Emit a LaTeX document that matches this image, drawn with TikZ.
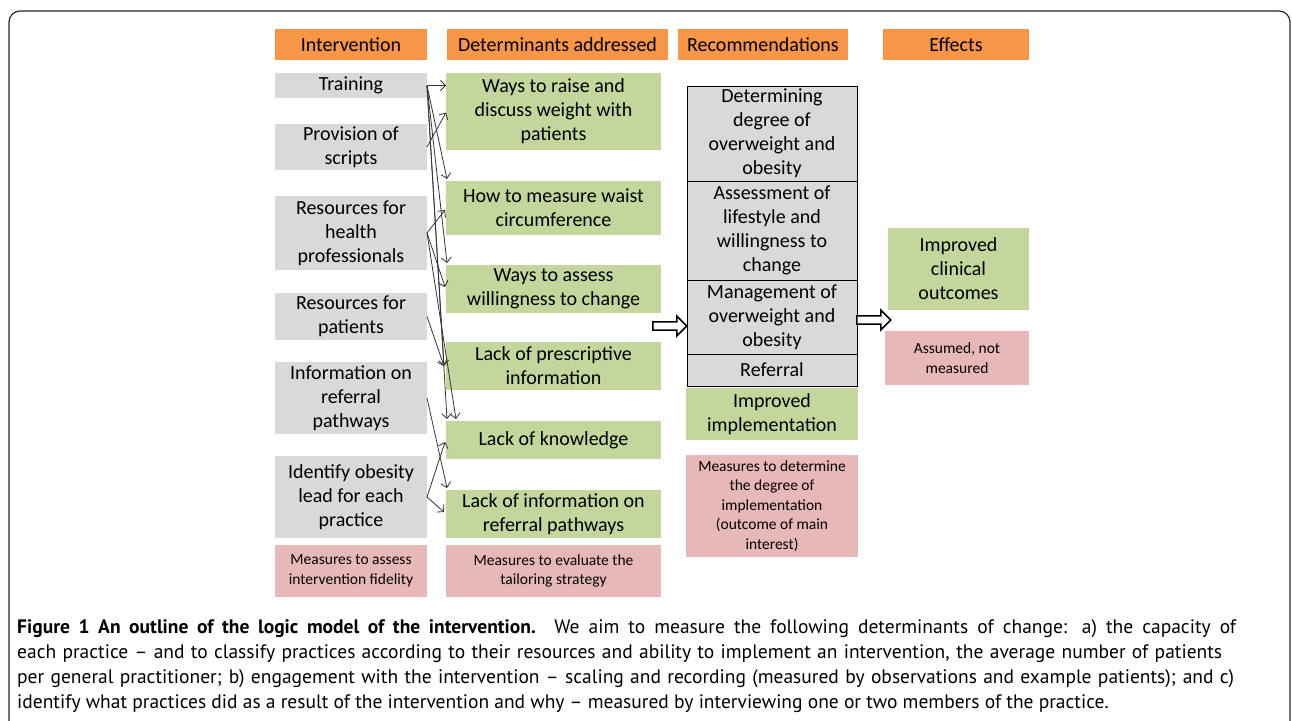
\documentclass[tikz,border=0pt]{standalone}
\usepackage{fontspec}
\setmainfont{Carlito}
\newfontfamily\capfont[Ligatures=TeX]{PT Sans}
\usetikzlibrary{shapes.arrows,calc,arrows.meta}
\definecolor{hdr}{HTML}{F79646}
\definecolor{gry}{HTML}{D9D9D9}
\definecolor{grn}{HTML}{C3D69B}
\definecolor{pnk}{HTML}{E6B9B8}
\newcommand{\dia}{\fontsize{20}{24}\selectfont}
\newcommand{\sml}{\fontsize{15.5}{19.5}\selectfont}
\newcommand{\capf}{\capfont\fontsize{19.5}{25}\selectfont}
\tikzset{
  base/.style={anchor=north west, inner sep=0pt, outer sep=0pt, align=center, font=\dia, text=black},
  hbox/.style={base, fill=hdr, minimum height=31pt},
  gbox/.style={base, fill=gry},
  grbox/.style={base, fill=grn},
  pbox/.style={base, fill=pnk, font=\sml},
  rbox/.style={base, fill=gry, draw=black, line width=0.8pt},
  lnk/.style={-{Straight Barb[length=5pt,width=10pt]}, line width=0.8pt, draw=black!80},
  blk/.style={single arrow, draw=black, fill=white, line width=1.6pt, minimum height=34pt, minimum width=20pt, single arrow head extend=4pt, inner sep=2pt, anchor=west},
  capline/.style={anchor=base west, inner sep=0pt, font=\capf}
}
\begin{document}
\begin{tikzpicture}[x=1pt,y=-1pt]
\useasboundingbox (0,0) rectangle (1292,720);
% frame
\draw[line width=1.2pt, draw=black!85, rounded corners=11pt] (9,730) -- (9,11) -- (1290,11) -- (1290,730);
% headers
\node[hbox, minimum width=152pt] (h1) at (275,29) {Intervention};
\node[hbox, minimum width=221pt] (h2) at (447,29) {Determinants addressed};
\node[hbox, minimum width=170pt] (h3) at (678,29) {Recommendations};
\node[hbox, minimum width=146pt] (h4) at (883,29) {Effects};
% intervention column
\node[gbox, minimum width=152pt, minimum height=25pt] (train) at (275,73) {Training};
\node[gbox, minimum width=152pt, minimum height=46pt] (prov) at (275,124) {Provision of\\scripts};
\node[gbox, minimum width=152pt, minimum height=74pt] (rhp) at (275,196) {Resources for\\health\\professionals};
\node[gbox, minimum width=152pt, minimum height=47pt] (rpat) at (275,293) {Resources for\\patients};
\node[gbox, minimum width=152pt, minimum height=72pt] (iref) at (275,362) {Information on\\referral\\pathways};
\node[gbox, minimum width=152pt, minimum height=82pt] (lead) at (275,456) {Identify obesity\\lead for each\\practice};
\node[pbox, minimum width=152pt, minimum height=52pt] (fid) at (275,545) {Measures to assess\\intervention fidelity};
% determinants column
\node[grbox, minimum width=215pt, minimum height=77pt] (ways) at (446,73) {Ways to raise and\\discuss weight with\\patients};
\node[grbox, minimum width=215pt, minimum height=54pt] (waist) at (446,181) {How to measure waist\\circumference};
\node[grbox, minimum width=215pt, minimum height=48pt] (will) at (446,265) {Ways to assess\\willingness to change};
\node[grbox, minimum width=215pt, minimum height=48pt] (presc) at (446,342) {Lack of prescriptive\\information};
\node[grbox, minimum width=215pt, minimum height=38pt] (know) at (446,421) {Lack of knowledge};
\node[grbox, minimum width=215pt, minimum height=48pt] (lref) at (446,490) {Lack of information on\\referral pathways};
\node[pbox, minimum width=215pt, minimum height=52pt] (tail) at (446,545) {Measures to evaluate the\\tailoring strategy};
% recommendations column
\node[rbox, minimum width=170pt, minimum height=95pt] (r1) at (687,86) {Determining\\degree of\\overweight and\\obesity};
\node[rbox, minimum width=170pt, minimum height=99pt] (r2) at (687,181) {Assessment of\\lifestyle and\\willingness to\\change};
\node[rbox, minimum width=170pt, minimum height=74pt] (r3) at (687,280) {Management of\\overweight and\\obesity};
\node[rbox, minimum width=170pt, minimum height=32pt] (r4) at (687,354) {Referral};
\node[grbox, minimum width=172pt, minimum height=52pt] (impl) at (686,388) {Improved\\implementation};
\node[pbox, minimum width=172pt, minimum height=102pt] (mimp) at (686,455) {Measures to determine\\the degree of\\implementation\\(outcome of main\\interest)};
% effects column
\node[grbox, minimum width=141pt, minimum height=82pt] (clin) at (888,228) {Improved\\clinical\\outcomes};
\node[pbox, minimum width=144pt, minimum height=54pt] (assm) at (885,331) {Assumed, not\\measured};
% block arrows
\node[blk] (ba1) at (652,326) {};
\node[blk] (ba2) at (856,320) {};
% links
\draw[lnk] (train.east) -- (ways.west |- train.east);
\draw[lnk] (train.east) -- ($(waist.north west)+(1,-2)$);
\draw[lnk] (train.east) -- ($(will.north west)+(1,-2)$);
\draw[lnk] (train.east) -- ($(presc.west)+(-2,0)$);
\draw[lnk] (train.east) -- ($(know.north west)+(1,-2)$);
\draw[lnk] (prov.east) -- ($(ways.west)+(0,1)$);
\draw[lnk] (rhp.east) -- ($(waist.west)+(-1,2)$);
\draw[lnk] (rhp.east) -- ($(will.west)+(-1,-2)$);
\draw[lnk] (rhp.east) -- ($(know.north west)+(10,-2)$);
\draw[lnk] (rpat.east) -- ($(presc.west)+(-2,0)$);
\draw[lnk] (iref.east) -- ($(lref.north west)+(1,-2)$);
\draw[lnk] (lead.east) -- ($(know.west)+(-1,2)$);
\draw[lnk] (lead.east) -- ($(lref.west)+(-2,-2)$);
% caption
\node[capline] (c1) at (17,633) {\hbox to 1219pt{\textbf{Figure 1 An outline of the logic model of the intervention.} We aim to measure the following determinants of change: a) the capacity of}};
\node[capline] (c2) at (17,658) {\hbox to 1205pt{each practice – and to classify practices according to their resources and ability to implement an intervention, the average number of patients}};
\node[capline] (c3) at (17,683) {\hbox to 1217pt{per general practitioner; b) engagement with the intervention – scaling and recording (measured by observations and example patients); and c)}};
\node[capline] (c4) at (17,708) {identify what practices did as a result of the intervention and why – measured by interviewing one or two members of the practice.};
\end{tikzpicture}
\end{document}
